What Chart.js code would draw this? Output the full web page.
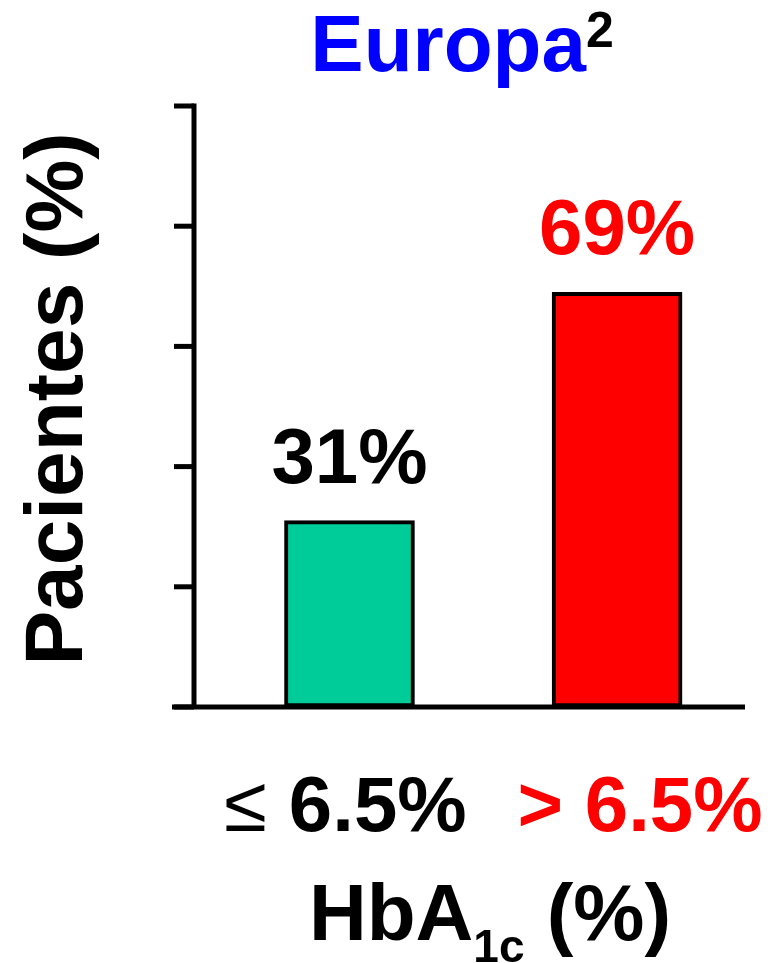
<!DOCTYPE html>
<html>
<head>
<meta charset="utf-8">
<title>Europa - HbA1c</title>
<script src="https://cdn.jsdelivr.net/npm/chart.js@4.4.0/dist/chart.umd.min.js"></script>
<style>
  html, body { margin: 0; padding: 0; background: #fff; }
  canvas { display: block; }
</style>
</head>
<body>
<canvas id="chart" width="775" height="963"></canvas>
<script>
// --- data ---
const categoryPrefix = ["≤", ">"];
const categoryValue = ["6.5%", "6.5%"];
const patientPct = [31, 69];
const yTicks = [0, 20, 40, 60, 80, 100];

const barColors = ["#00CC99", "#FF0000"];
const labelColors = ["#000000", "#FF0000"];

const FONT = "'Liberation Sans', Arial, sans-serif";
const AXIS_W = 5;

/** Draws runs of text (each with its own font / colour / baseline shift) centred on cx. */
function drawRuns(ctx, runs, cx, baseline) {
  let total = 0;
  runs.forEach((r) => {
    ctx.font = r.font;
    r.w = ctx.measureText(r.text).width;
    total += r.w;
  });
  let x = cx - total / 2;
  ctx.textAlign = "left";
  ctx.textBaseline = "alphabetic";
  runs.forEach((r) => {
    ctx.font = r.font;
    ctx.fillStyle = r.color;
    ctx.fillText(r.text, x, baseline + (r.dy || 0));
    x += r.w;
  });
}

const decorations = {
  id: "decorations",
  afterDraw(chart) {
    const { ctx, chartArea, scales } = chart;
    const x0 = chartArea.left;
    const yZero = scales.y.getPixelForValue(0);
    const yTop = scales.y.getPixelForValue(100);

    ctx.save();
    ctx.strokeStyle = "#000";
    ctx.lineWidth = AXIS_W;
    ctx.lineCap = "butt";

    // y axis + tick marks (no tick labels in the reference)
    ctx.beginPath();
    ctx.moveTo(x0, yTop - AXIS_W / 2);
    ctx.lineTo(x0, yZero);
    ctx.stroke();
    yTicks.forEach((v) => {
      const y = scales.y.getPixelForValue(v);
      ctx.beginPath();
      ctx.moveTo(x0 - 20, y);
      ctx.lineTo(x0, y);
      ctx.stroke();
    });

    // x axis
    ctx.beginPath();
    ctx.moveTo(x0 - 22, yZero);
    ctx.lineTo(chartArea.right, yZero);
    ctx.stroke();

    // value labels above bars
    ctx.textAlign = "center";
    ctx.textBaseline = "alphabetic";
    ctx.font = `bold 78px ${FONT}`;
    patientPct.forEach((v, i) => {
      const x = scales.x.getPixelForValue(i);
      const y = scales.y.getPixelForValue(v);
      ctx.fillStyle = labelColors[i];
      ctx.fillText(`${v}%`, x, y - 38);
    });

    // category labels under the axis
    const labelShift = [-4, 23];
    categoryPrefix.forEach((p, i) => {
      const x = scales.x.getPixelForValue(i) + labelShift[i];
      const weight = p === "≤" ? "normal" : "bold";
      drawRuns(ctx, [
        { text: p + " ", font: `${weight} 78px ${FONT}`, color: labelColors[i] },
        { text: categoryValue[i], font: `bold 78px ${FONT}`, color: labelColors[i] },
      ], x, 831);
    });

    // x title: HbA1c (%)
    drawRuns(ctx, [
      { text: "HbA", font: `bold 80px ${FONT}`, color: "#000" },
      { text: "1c", font: `bold 46px ${FONT}`, color: "#000", dy: 22 },
      { text: " (%)", font: `bold 80px ${FONT}`, color: "#000" },
    ], 490, 940);

    // chart title: Europa²
    drawRuns(ctx, [
      { text: "Europa", font: `bold 80px ${FONT}`, color: "#0000FF" },
      { text: "2", font: `bold 50px ${FONT}`, color: "#000", dy: -24 },
    ], 462, 71);

    // y title, rotated
    ctx.translate(82, 399);
    ctx.rotate(-Math.PI / 2);
    ctx.textAlign = "center";
    ctx.font = `bold 82px ${FONT}`;
    ctx.fillStyle = "#000";
    ctx.fillText("Pacientes (%)", 0, 0);
    ctx.restore();
  },
};

new Chart(document.getElementById("chart"), {
  type: "bar",
  data: {
    datasets: [
      {
        data: patientPct.map((v, i) => ({ x: i, y: v })),
        backgroundColor: barColors,
        borderColor: "#000",
        borderWidth: 4,
        borderSkipped: false,
        barThickness: 130,
      },
    ],
  },
  options: {
    responsive: false,
    animation: false,
    layout: { padding: { left: 194, right: 30, top: 106, bottom: 256 } },
    scales: {
      // positions chosen so the two bars land where they sit in the reference
      x: { type: "linear", offset: false, min: -0.581, max: 1.478, display: false },
      y: { min: 0, max: 100, display: false },
    },
    plugins: {
      legend: { display: false },
      tooltip: { enabled: false },
    },
  },
  plugins: [decorations],
});
</script>
</body>
</html>
